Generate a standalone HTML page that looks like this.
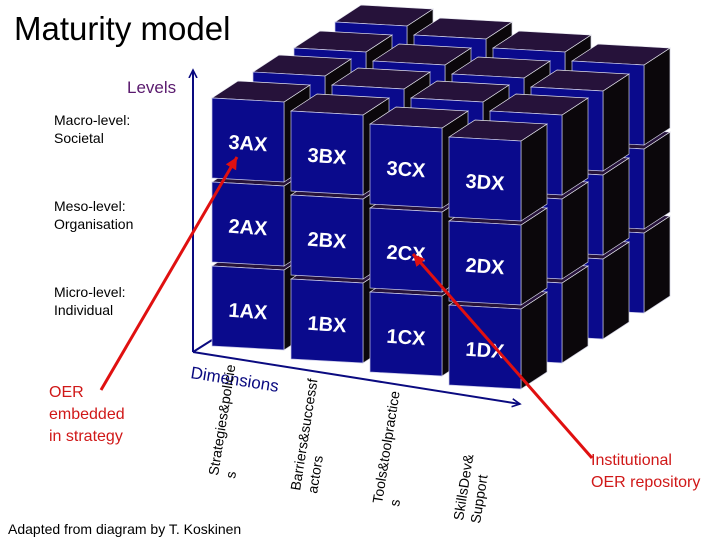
<!DOCTYPE html>
<html><head><meta charset="utf-8"><style>
html,body{margin:0;padding:0;background:#fff;}
svg{display:block;font-family:"Liberation Sans",Arial,sans-serif;}
</style></head><body>
<svg width="728" height="546" viewBox="0 0 728 546" xmlns="http://www.w3.org/2000/svg">
<defs>
<g id="cube">
<polygon points="72,4 98,-13 98,67 72,84" fill="#0b070b" stroke="#cfcfe0" stroke-width="0.7"/>
<polygon points="0,0 26,-17 98,-13 72,4" fill="#26123a" stroke="#e8e8f0" stroke-width="0.7"/>
<polygon points="0,0 72,4 72,84 0,80" fill="#0a0a8c" stroke="#c8c8e8" stroke-width="0.7"/>
</g>
<marker id="ab" markerWidth="10" markerHeight="10" refX="8" refY="5" orient="auto" markerUnits="userSpaceOnUse"><path d="M0,1 L8,5 L0,9" fill="none" stroke="#0a0a80" stroke-width="1.6"/></marker>
<marker id="ar" markerWidth="14" markerHeight="14" refX="12" refY="7" orient="auto" markerUnits="userSpaceOnUse"><path d="M0,1 L12,7 L0,13 Z" fill="#e01010"/></marker>
</defs>

<text x="14" y="40" font-size="33" fill="#000">Maturity model</text>

<line x1="193" y1="352" x2="193" y2="70" stroke="#0a0a80" stroke-width="2" marker-end="url(#ab)"/>
<line x1="193" y1="352" x2="520" y2="404" stroke="#0a0a80" stroke-width="2" marker-end="url(#ab)"/>
<line x1="193" y1="352" x2="212" y2="340" stroke="#0a0a80" stroke-width="2"/>

<use href="#cube" x="335" y="190"/><use href="#cube" x="335" y="106"/><use href="#cube" x="335" y="22"/>
<use href="#cube" x="414" y="203"/><use href="#cube" x="414" y="119"/><use href="#cube" x="414" y="35"/>
<use href="#cube" x="493" y="216"/><use href="#cube" x="493" y="132"/><use href="#cube" x="493" y="48"/>
<use href="#cube" x="572" y="229"/><use href="#cube" x="572" y="145"/><use href="#cube" x="572" y="61"/>
<use href="#cube" x="294" y="216"/><use href="#cube" x="294" y="132"/><use href="#cube" x="294" y="48"/>
<use href="#cube" x="373" y="229"/><use href="#cube" x="373" y="145"/><use href="#cube" x="373" y="61"/>
<use href="#cube" x="452" y="242"/><use href="#cube" x="452" y="158"/><use href="#cube" x="452" y="74"/>
<use href="#cube" x="531" y="255"/><use href="#cube" x="531" y="171"/><use href="#cube" x="531" y="87"/>
<use href="#cube" x="253" y="240"/><use href="#cube" x="253" y="156"/><use href="#cube" x="253" y="72"/>
<use href="#cube" x="332" y="253"/><use href="#cube" x="332" y="169"/><use href="#cube" x="332" y="85"/>
<use href="#cube" x="411" y="266"/><use href="#cube" x="411" y="182"/><use href="#cube" x="411" y="98"/>
<use href="#cube" x="490" y="279"/><use href="#cube" x="490" y="195"/><use href="#cube" x="490" y="111"/>
<use href="#cube" x="212" y="266"/><use href="#cube" x="212" y="182"/><use href="#cube" x="212" y="98"/>
<use href="#cube" x="291" y="279"/><use href="#cube" x="291" y="195"/><use href="#cube" x="291" y="111"/>
<use href="#cube" x="370" y="292"/><use href="#cube" x="370" y="208"/><use href="#cube" x="370" y="124"/>
<use href="#cube" x="449" y="305"/><use href="#cube" x="449" y="221"/><use href="#cube" x="449" y="137"/>

<g fill="#fff" font-weight="bold" font-size="20" text-anchor="middle">
<text x="248" y="150" transform="rotate(4 248 144)">3AX</text>
<text x="248" y="234" transform="rotate(4 248 228)">2AX</text>
<text x="248" y="318" transform="rotate(4 248 312)">1AX</text>
<text x="327" y="163" transform="rotate(4 327 157)">3BX</text>
<text x="327" y="247" transform="rotate(4 327 241)">2BX</text>
<text x="327" y="331" transform="rotate(4 327 325)">1BX</text>
<text x="406" y="176" transform="rotate(4 406 170)">3CX</text>
<text x="406" y="260" transform="rotate(4 406 254)">2CX</text>
<text x="406" y="344" transform="rotate(4 406 338)">1CX</text>
<text x="485" y="189" transform="rotate(4 485 183)">3DX</text>
<text x="485" y="273" transform="rotate(4 485 267)">2DX</text>
<text x="485" y="357" transform="rotate(4 485 351)">1DX</text>
</g>

<text x="127" y="93" font-size="17" fill="#5a1a6e">Levels</text>
<g font-size="14" fill="#000">
<text x="54" y="125">Macro-level:</text><text x="54" y="143">Societal</text>
<text x="54" y="211">Meso-level:</text><text x="54" y="229">Organisation</text>
<text x="54" y="297">Micro-level:</text><text x="54" y="315">Individual</text>
</g>

<text x="190" y="378" font-size="17" fill="#0a0a80" transform="rotate(9 190 378)">Dimensions</text>

<g font-size="14" fill="#000">
<text x="218" y="476" transform="rotate(-81 218 476)">Strategies&amp;policie</text>
<text x="235" y="479" transform="rotate(-81 235 479)">s</text>
<text x="300" y="491" transform="rotate(-81 300 491)">Barriers&amp;successf</text>
<text x="317" y="494" transform="rotate(-81 317 494)">actors</text>
<text x="382" y="504" transform="rotate(-81 382 504)">Tools&amp;toolpractice</text>
<text x="399" y="507" transform="rotate(-81 399 507)">s</text>
<text x="463" y="521" transform="rotate(-81 463 521)">SkillsDev&amp;</text>
<text x="480" y="524" transform="rotate(-81 480 524)">Support</text>
</g>

<line x1="101" y1="390" x2="237" y2="157" stroke="#e01010" stroke-width="3" marker-end="url(#ar)"/>
<line x1="592" y1="458" x2="413" y2="254" stroke="#e01010" stroke-width="3" marker-end="url(#ar)"/>

<g font-size="16" fill="#d01818">
<text x="49" y="397">OER</text><text x="49" y="419">embedded</text><text x="49" y="441">in strategy</text>
<text x="591" y="465">Institutional</text><text x="591" y="487">OER repository</text>
</g>

<text x="8" y="534" font-size="14" fill="#000">Adapted from diagram by T. Koskinen</text>
</svg>
</body></html>
